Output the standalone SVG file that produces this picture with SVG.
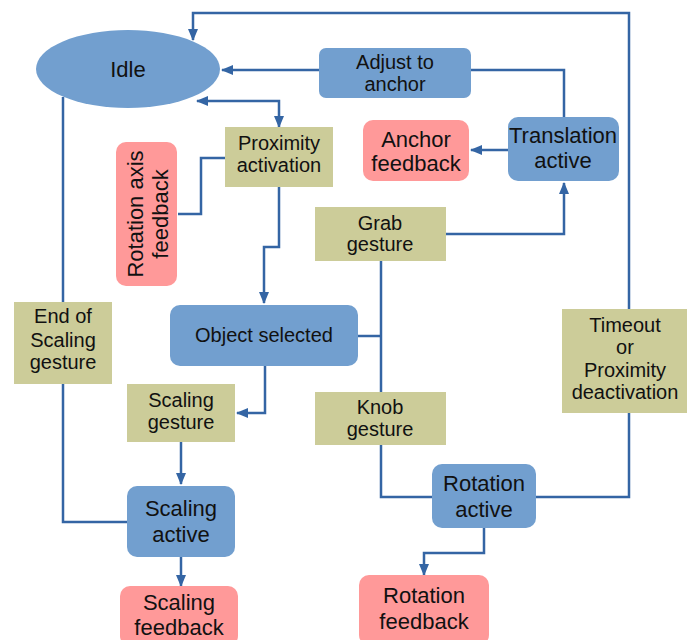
<svg xmlns="http://www.w3.org/2000/svg" width="687" height="640" viewBox="0 0 687 640">
<style>
.b{fill:#729fcf}
.p{fill:#ff9999}
.k{fill:#cccc99}
text{font-family:"Liberation Sans",Arial,sans-serif;fill:#111;text-anchor:middle}
.t20{font-size:20px}
.t22{font-size:22px}
.c{fill:none;stroke:#3465a4;stroke-width:2.5}
</style>
<defs>
<marker id="ah" markerUnits="userSpaceOnUse" markerWidth="12" markerHeight="12" viewBox="0 0 12 12" refX="11" refY="6" orient="auto-start-reverse">
<path d="M0,1 L12,6 L0,11 Z" fill="#3465a4"/>
</marker>
</defs>
<rect width="687" height="640" fill="#fff"/>
<g id="connectors">
<path class="c" d="M629,309 V13 H193 V40" marker-end="url(#ah)"/>
<path class="c" d="M536,497 H629 V413"/>
<path class="c" d="M319,70 H222" marker-end="url(#ah)"/>
<path class="c" d="M564,117 V70 H471"/>
<path class="c" d="M508,150 H471" marker-end="url(#ah)"/>
<path class="c" d="M446,234 H564 V183" marker-end="url(#ah)"/>
<path class="c" d="M197,101 H279 V127" marker-start="url(#ah)" marker-end="url(#ah)"/>
<path class="c" d="M225,158 H201 V214 H178"/>
<path class="c" d="M279,187 V247 H264 V303" marker-end="url(#ah)"/>
<path class="c" d="M358,336 H381"/>
<path class="c" d="M381,261 V392"/>
<path class="c" d="M381,445 V497 H432"/>
<path class="c" d="M484,528 V553 H424 V575" marker-end="url(#ah)"/>
<path class="c" d="M265,366 V413 H237" marker-end="url(#ah)"/>
<path class="c" d="M181,442 V484" marker-end="url(#ah)"/>
<path class="c" d="M181,557 V586" marker-end="url(#ah)"/>
<path class="c" d="M127,522 H63 V384"/>
<path class="c" d="M63,302 V97"/>
</g>
<g id="idle"><ellipse class="b" cx="128" cy="69" rx="92" ry="39"/><text class="t22" x="128" y="77">Idle</text></g>
<g id="adjust"><rect class="b" x="319" y="48" width="152" height="50" rx="7"/><text class="t20" x="395" y="69">Adjust to</text><text class="t20" x="395" y="91">anchor</text></g>
<g id="anchor-feedback"><rect class="p" x="363" y="120" width="106" height="61" rx="10"/><text class="t22" x="416" y="147">Anchor</text><text class="t22" x="416" y="171">feedback</text></g>
<g id="translation"><rect class="b" x="508" y="117" width="111" height="64" rx="10"/><text class="t22" x="563" y="143">Translation</text><text class="t22" x="563" y="168">active</text></g>
<g id="proximity"><rect class="k" x="225" y="127" width="108" height="60"/><text class="t20" x="279" y="150">Proximity</text><text class="t20" x="279" y="172">activation</text></g>
<g id="rotation-axis"><rect class="p" x="116" y="142" width="61" height="144" rx="10"/><text class="t22" transform="translate(143,214) rotate(-90)">Rotation axis</text><text class="t22" transform="translate(168,214) rotate(-90)">feedback</text></g>
<g id="grab"><rect class="k" x="315" y="207" width="131" height="54"/><text class="t20" x="380" y="230">Grab</text><text class="t20" x="380" y="251">gesture</text></g>
<g id="object-selected"><rect class="b" x="170" y="305" width="188" height="61" rx="10"/><text class="t20" x="264" y="342">Object selected</text></g>
<g id="end-scaling"><rect class="k" x="14" y="302" width="98" height="82"/><text class="t20" x="63" y="323">End of</text><text class="t20" x="63" y="347">Scaling</text><text class="t20" x="63" y="369">gesture</text></g>
<g id="scaling-gesture"><rect class="k" x="127" y="384" width="108" height="58"/><text class="t20" x="181" y="407">Scaling</text><text class="t20" x="181" y="429">gesture</text></g>
<g id="knob"><rect class="k" x="315" y="392" width="131" height="53"/><text class="t20" x="380" y="414">Knob</text><text class="t20" x="380" y="436">gesture</text></g>
<g id="timeout"><rect class="k" x="562" y="309" width="125" height="104"/><text class="t20" x="625" y="332">Timeout</text><text class="t20" x="625" y="354">or</text><text class="t20" x="625" y="377">Proximity</text><text class="t20" x="625" y="399">deactivation</text></g>
<g id="rotation-active"><rect class="b" x="432" y="464" width="104" height="64" rx="10"/><text class="t22" x="484" y="491">Rotation</text><text class="t22" x="484" y="517">active</text></g>
<g id="scaling-active"><rect class="b" x="127" y="486" width="108" height="71" rx="10"/><text class="t22" x="181" y="516">Scaling</text><text class="t22" x="181" y="542">active</text></g>
<g id="rotation-feedback"><rect class="p" x="359" y="575" width="130" height="70" rx="10"/><text class="t22" x="424" y="603">Rotation</text><text class="t22" x="424" y="629">feedback</text></g>
<g id="scaling-feedback"><rect class="p" x="120" y="586" width="118" height="60" rx="10"/><text class="t22" x="179" y="610">Scaling</text><text class="t22" x="179" y="635">feedback</text></g>
</svg>
